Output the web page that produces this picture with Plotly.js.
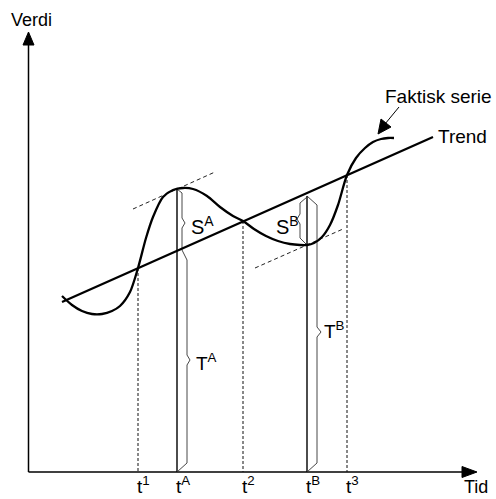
<!DOCTYPE html>
<html>
<head>
<meta charset="utf-8">
<script src="https://cdn.plot.ly/plotly-3.0.1.min.js"></script>
<style>html,body{margin:0;padding:0;background:#fff;}#chart{width:496px;height:499px;}</style>
</head>
<body>
<div id="chart"></div>
<script>
// Diagram values (drawing units = picture pixels, y downward)
var seriesX = [62, 72, 82, 92, 102, 112, 120, 130, 138, 146, 153, 163, 173, 183, 193, 207, 220, 233, 243, 254, 266, 278, 290, 300, 307, 314, 322, 330, 338, 347, 356, 365, 373, 381, 388, 394];
var seriesY = [296, 305, 311, 314, 314, 311, 306, 292, 268, 238, 217, 197, 190, 188, 189, 196, 207, 216, 221, 229, 236, 241, 244, 245, 245, 243, 237, 225, 205, 175, 158, 148, 142, 139, 138, 138];
var trendX = [62, 433];
var trendY = [302, 137];
var tangentAX = [133, 215];
var tangentAY = [209, 172];
var tangentBX = [255, 343];
var tangentBY = [268, 229];
var tickNames = ["1", "A", "2", "B", "3"];
var tickX = [138, 177, 243, 307, 347];
var tickTopY = [268, 188, 221, 196, 175];
var baseY = 472;
var dashedIdx = [0, 2, 4];
var solidIdx = [1, 3];
var stripAX = [177, 182, 182, 185, 182, 182, 187, 187, 190, 187, 187, 177];
var stripAY = [189, 193, 218, 223, 228, 250, 260, 355, 360, 365, 463, 472];
var stripBLX = [307, 300, 300, 297, 300, 300, 307];
var stripBLY = [197, 203, 214, 219, 224, 238, 245];
var stripBRX = [307, 317, 317, 321, 317, 317, 307];
var stripBRY = [196, 205, 327, 332, 337, 463, 472];
var yAxisX = [28.5, 28.5];
var yAxisY = [472, 44];
var xAxisX = [28.5, 464];
var xAxisY = [472, 472];
var yArrowX = [23, 28.5, 34, 23];
var yArrowY = [45, 32, 45, 45];
var xArrowX = [462, 477, 462, 462];
var xArrowY = [466.5, 472, 477.5, 466.5];
var ptrLineX = [399, 385];
var ptrLineY = [107, 124];
var ptrHeadX = [378, 381, 391, 378];
var ptrHeadY = [134, 119, 127, 134];

var FONT = "Liberation Sans, Arial, Helvetica, sans-serif";
var traces = [];
function line(x, y, w, dash, color) {
  traces.push({type: "scatter", mode: "lines", x: x, y: y, hoverinfo: "skip",
    line: {color: color || "#000", width: w, dash: dash || "solid", shape: "linear"}});
}
function tri(x, y) {
  traces.push({type: "scatter", mode: "lines", x: x, y: y, fill: "toself", fillcolor: "#000",
    hoverinfo: "skip", line: {color: "#000", width: 1}});
}
// axes
line(yAxisX, yAxisY, 1.5);
line(xAxisX, xAxisY, 1.5);
tri(yArrowX, yArrowY);
tri(xArrowX, xArrowY);
// verticals
dashedIdx.forEach(function (i) { line([tickX[i], tickX[i]], [tickTopY[i], baseY], 1, "3px,2px", "#111"); });
solidIdx.forEach(function (i) { line([tickX[i], tickX[i]], [tickTopY[i], baseY], 1.4); });
line(stripAX, stripAY, 0.9, "solid", "#333");
line(stripBLX, stripBLY, 0.9, "solid", "#333");
line(stripBRX, stripBRY, 0.9, "solid", "#333");
// tangents
line(tangentAX, tangentAY, 1, "4px,3px", "#222");
line(tangentBX, tangentBY, 1, "4px,3px", "#222");
// trend & series
line(trendX, trendY, 2.3);
traces.push({type: "scatter", mode: "lines", x: seriesX, y: seriesY, hoverinfo: "skip",
  line: {color: "#000", width: 2.3, shape: "spline", smoothing: 0.8}});
// pointer
line(ptrLineX, ptrLineY, 1);
tri(ptrHeadX, ptrHeadY);

var ann = [];
function txt(x, y, t, size, anchor, yanchor) {
  ann.push({x: x, y: y, xref: "x", yref: "y", text: t, showarrow: false,
    xanchor: anchor || "center", yanchor: yanchor || "middle",
    font: {family: FONT, size: size, color: "#000"}});
}
txt(31, 20, "Verdi", 18);
txt(476, 499, "Tid", 18, "center", "bottom");
txt(438, 96, "Faktisk serie", 19);
txt(462, 136, "Trend", 19);
tickNames.forEach(function (n, i) {
  txt(tickX[i] - 3, 499, "t<sup>" + n + "</sup>", 19, "left", "bottom");
});
txt(189, 225, "S<sup>A</sup>", 20, "left");
txt(274, 225, "S<sup>B</sup>", 20, "left");
txt(194, 362, "T<sup>A</sup>", 19, "left");
txt(322, 330, "T<sup>B</sup>", 19, "left");

var layout = {
  width: 496, height: 499,
  margin: {l: 0, r: 0, t: 0, b: 0},
  paper_bgcolor: "#fff", plot_bgcolor: "#fff",
  showlegend: false,
  xaxis: {range: [0, 496], visible: false, fixedrange: true},
  yaxis: {range: [499, 0], visible: false, fixedrange: true},
  annotations: ann
};
Plotly.newPlot("chart", traces, layout, {staticPlot: true});
</script>
</body>
</html>
